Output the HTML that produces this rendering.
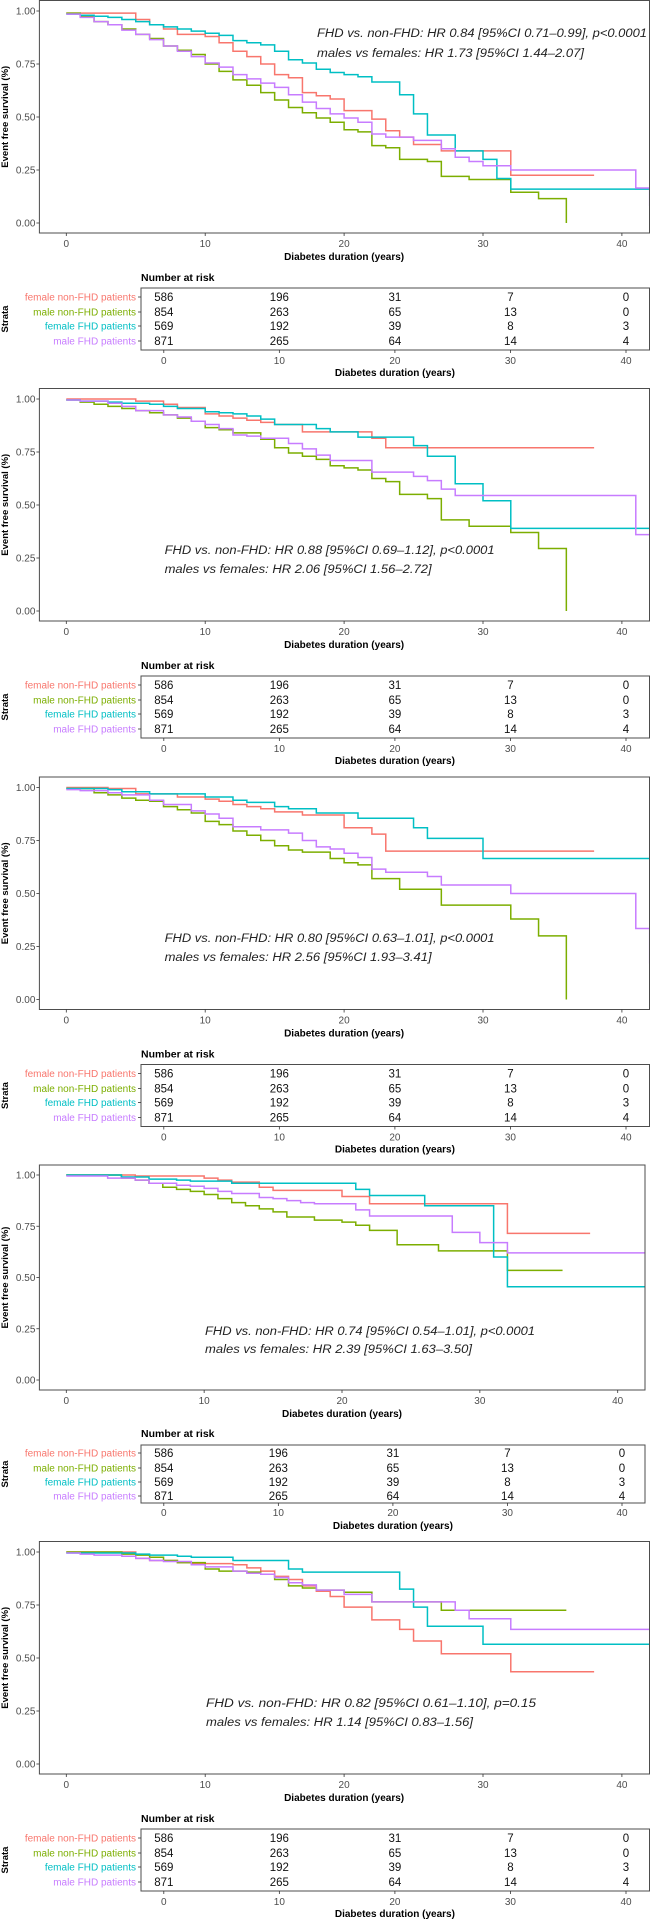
<!DOCTYPE html>
<html><head><meta charset="utf-8"><style>
html,body{margin:0;padding:0;background:#fff}
svg{display:block;font-family:"Liberation Sans",sans-serif}
</style></head><body>
<svg id="fig" width="650" height="1920" viewBox="0 0 650 1920" xmlns="http://www.w3.org/2000/svg"></svg>
<script>
// ---- data: [time(years), survival] steps ----
const p1_femaleNon=[[0,0.99],[5,0.96],[6,0.935],[7,0.915],[8,0.89],[10,0.88],[11,0.85],[12,0.81],[13,0.785],[14,0.75],[15,0.70],[16,0.685],[17,0.615],[18,0.60],[19,0.585],[20,0.53],[22,0.49],[23,0.435],[24,0.405],[25,0.37],[27,0.34],[32,0.225],[38,0.225]];
const p1_maleNon=[[0,0.99],[1,0.975],[2,0.95],[3,0.935],[4,0.915],[5,0.89],[6,0.87],[7,0.835],[8,0.815],[9,0.795],[10,0.75],[11,0.715],[12,0.675],[13,0.65],[14,0.615],[15,0.58],[16,0.545],[17,0.52],[18,0.495],[19,0.475],[20,0.44],[21,0.43],[22,0.365],[23,0.355],[24,0.30],[26,0.29],[27,0.22],[29,0.205],[32,0.145],[34,0.115],[36,0]];
const p1_femaleFhd=[[0,0.985],[1,0.98],[2,0.975],[3,0.97],[4,0.96],[5,0.95],[6,0.935],[7,0.925],[8,0.915],[9,0.905],[10,0.895],[11,0.885],[12,0.86],[13,0.85],[14,0.84],[15,0.81],[16,0.77],[17,0.755],[18,0.725],[19,0.71],[20,0.70],[21,0.69],[22,0.665],[24,0.605],[25,0.515],[26,0.415],[28,0.34],[30,0.30],[31,0.21],[32,0.16],[42,0.16]];
const p1_maleFhd=[[0,0.985],[1,0.97],[2,0.95],[3,0.935],[4,0.91],[5,0.89],[6,0.865],[7,0.835],[8,0.81],[9,0.785],[10,0.755],[11,0.735],[12,0.70],[13,0.68],[14,0.66],[15,0.64],[16,0.605],[17,0.57],[18,0.54],[19,0.515],[20,0.495],[21,0.475],[22,0.42],[23,0.405],[25,0.39],[27,0.35],[28,0.31],[29,0.29],[30,0.27],[32,0.25],[41,0.165],[42,0.08]];

const p2_femaleNon=[[0,1.0],[5,0.99],[7,0.975],[8,0.96],[10,0.93],[11,0.92],[12,0.91],[13,0.90],[14,0.89],[15,0.88],[17,0.845],[22,0.815],[23,0.77],[38,0.77]];
const p2_maleNon=[[0,0.995],[1,0.985],[2,0.975],[3,0.965],[4,0.955],[5,0.945],[6,0.935],[7,0.925],[8,0.91],[9,0.895],[10,0.865],[11,0.855],[12,0.84],[14,0.81],[15,0.77],[16,0.745],[17,0.73],[18,0.715],[19,0.685],[20,0.675],[21,0.665],[22,0.625],[23,0.61],[24,0.55],[26,0.53],[27,0.43],[29,0.40],[32,0.37],[34,0.295],[36,0]];
const p2_femaleFhd=[[0,0.995],[1,0.99],[3,0.985],[4,0.98],[6,0.975],[7,0.965],[8,0.955],[10,0.94],[11,0.935],[12,0.93],[13,0.92],[14,0.905],[15,0.88],[18,0.86],[19,0.845],[21,0.82],[25,0.78],[26,0.73],[28,0.60],[30,0.52],[32,0.39],[42,0.39]];
const p2_maleFhd=[[0,0.995],[1,0.99],[3,0.98],[4,0.965],[5,0.945],[7,0.925],[8,0.915],[9,0.895],[10,0.88],[11,0.86],[12,0.83],[13,0.825],[14,0.815],[16,0.79],[17,0.765],[18,0.735],[19,0.71],[22,0.655],[25,0.635],[26,0.615],[27,0.575],[28,0.545],[41,0.36],[42,0.36]];

const p3_femaleNon=[[0,1.0],[3,0.995],[5,0.97],[8,0.955],[10,0.945],[11,0.935],[12,0.92],[13,0.91],[14,0.90],[15,0.885],[17,0.87],[20,0.81],[22,0.78],[23,0.70],[38,0.70]];
const p3_maleNon=[[0,0.995],[2,0.975],[3,0.965],[4,0.95],[5,0.94],[6,0.935],[7,0.91],[8,0.895],[9,0.88],[10,0.84],[11,0.825],[12,0.795],[13,0.775],[14,0.75],[15,0.725],[16,0.705],[17,0.695],[19,0.665],[20,0.645],[21,0.635],[22,0.57],[24,0.52],[27,0.445],[32,0.38],[34,0.30],[36,0]];
const p3_femaleFhd=[[0,0.995],[3,0.99],[4,0.98],[6,0.97],[10,0.955],[12,0.94],[13,0.93],[15,0.91],[16,0.90],[18,0.88],[21,0.855],[25,0.81],[26,0.76],[30,0.665],[42,0.665]];
const p3_maleFhd=[[0,0.99],[1,0.985],[3,0.975],[4,0.965],[6,0.94],[7,0.92],[9,0.89],[10,0.875],[11,0.855],[12,0.815],[14,0.80],[16,0.785],[17,0.75],[18,0.72],[19,0.71],[20,0.69],[21,0.67],[22,0.615],[23,0.60],[26,0.58],[27,0.54],[32,0.50],[41,0.335],[42,0.17]];

const p4_femaleNon=[[0,1.0],[5,0.995],[10,0.985],[11,0.975],[12,0.965],[14,0.94],[15,0.925],[20,0.895],[22,0.86],[32,0.715],[38,0.715]];
const p4_maleNon=[[0,1.0],[4,0.985],[5,0.975],[6,0.96],[7,0.94],[8,0.93],[9,0.92],[10,0.905],[11,0.885],[12,0.865],[13,0.85],[14,0.835],[15,0.82],[16,0.795],[18,0.78],[20,0.77],[21,0.755],[22,0.73],[24,0.66],[27,0.63],[32,0.535],[36,0.535]];
const p4_femaleFhd=[[0,1.0],[4,0.99],[6,0.98],[8,0.975],[9,0.97],[12,0.96],[21,0.93],[22,0.90],[26,0.85],[31,0.60],[32,0.455],[42,0.455]];
const p4_maleFhd=[[0,0.995],[3,0.985],[5,0.975],[6,0.96],[8,0.95],[9,0.945],[10,0.935],[11,0.92],[12,0.91],[14,0.89],[15,0.885],[16,0.875],[17,0.865],[18,0.86],[21,0.83],[22,0.80],[28,0.72],[30,0.67],[32,0.62],[42,0.62]];

const p5_femaleNon=[[0,1.0],[5,0.97],[6,0.96],[8,0.95],[9,0.945],[12,0.94],[13,0.925],[14,0.91],[15,0.885],[16,0.87],[17,0.84],[18,0.815],[19,0.79],[20,0.74],[22,0.68],[24,0.635],[25,0.58],[27,0.52],[32,0.435],[38,0.435]];
const p5_maleNon=[[0,1.0],[4,0.99],[5,0.985],[6,0.975],[7,0.96],[8,0.95],[10,0.92],[11,0.91],[13,0.905],[14,0.895],[15,0.87],[16,0.84],[17,0.83],[18,0.82],[20,0.81],[22,0.765],[27,0.725],[36,0.725]];
const p5_femaleFhd=[[0,0.995],[5,0.99],[6,0.985],[8,0.98],[9,0.975],[12,0.96],[16,0.92],[17,0.905],[24,0.825],[25,0.74],[26,0.65],[30,0.565],[42,0.565]];
const p5_maleFhd=[[0,0.995],[1,0.99],[2,0.985],[4,0.98],[5,0.97],[6,0.96],[7,0.955],[9,0.94],[10,0.93],[12,0.91],[13,0.90],[14,0.895],[15,0.88],[16,0.855],[17,0.845],[18,0.82],[20,0.80],[22,0.765],[28,0.725],[29,0.685],[32,0.635],[42,0.635]];

const strataNames=["female non-FHD patients","male non-FHD patients","female FHD patients","male FHD patients"];
const xTicks=[0,10,20,30,40];
const yTicks=[0,0.25,0.5,0.75,1];
const yTickLabels=["0.00","0.25","0.50","0.75","1.00"];
const riskFemaleNon=[586,196,31,7,0];
const riskMaleNon=[854,263,65,13,0];
const riskFemaleFhd=[569,192,39,8,3];
const riskMaleFhd=[871,265,64,14,4];
const hrLine1=["FHD vs. non-FHD: HR 0.84 [95%CI 0.71–0.99], p<0.0001","FHD vs. non-FHD: HR 0.88 [95%CI 0.69–1.12], p<0.0001","FHD vs. non-FHD: HR 0.80 [95%CI 0.63–1.01], p<0.0001","FHD vs. non-FHD: HR 0.74 [95%CI 0.54–1.01], p<0.0001","FHD vs. non-FHD: HR 0.82 [95%CI 0.61–1.10], p=0.15"];
const hrLine2=["males vs females: HR 1.73 [95%CI 1.44–2.07]","males vs females: HR 2.06 [95%CI 1.56–2.72]","males vs females: HR 2.56 [95%CI 1.93–3.41]","males vs females: HR 2.39 [95%CI 1.63–3.50]","males vs females: HR 1.14 [95%CI 0.83–1.56]"];

const colors=["#F8766D","#7CAE00","#00BFC4","#C77CFF"];
const panelSeries=[
 [p1_femaleNon,p1_maleNon,p1_femaleFhd,p1_maleFhd],
 [p2_femaleNon,p2_maleNon,p2_femaleFhd,p2_maleFhd],
 [p3_femaleNon,p3_maleNon,p3_femaleFhd,p3_maleFhd],
 [p4_femaleNon,p4_maleNon,p4_femaleFhd,p4_maleFhd],
 [p5_femaleNon,p5_maleNon,p5_femaleFhd,p5_maleFhd]];
const riskRows=[riskFemaleNon,riskMaleNon,riskFemaleFhd,riskMaleFhd];

function geo(o,extra){
  return Object.assign({y1:11+o,y0:223+o,boxT:0.5+o,boxB:233+o,boxL:39.4,boxR:649.5,x0:66.3,x40:621.9,
    tick:247+o,title:260+o,nar:281+o,tT:288+o,tB:350+o,rows:[301+o,316+o,330+o,345+o],tTick:364+o,tTitle:376+o,
    tL:141,tR:649.5,tx0:163.8,tx40:626,ann:[317,37+o,57+o]},extra||{});
}
const G=[geo(0),geo(388,{ann:[164.6,554,573]}),geo(776.5,{ann:[164.6,942,961]}),
 {y1:1175,y0:1380,boxT:1165,boxB:1390,boxL:39.4,boxR:645,x0:66.3,x40:617.7,tick:1404,title:1417,nar:1437,tT:1445,tB:1503,rows:[1457,1472,1486,1500],tTick:1516,tTitle:1529,tL:141,tR:645,tx0:163.8,tx40:622,ann:[205,1335,1353]},
 geo(1541,{ann:[206,1707,1726]})];

const NS="http://www.w3.org/2000/svg";
const svg=document.getElementById('fig');
function mk(tag,attrs,parent,txt){const e=document.createElementNS(NS,tag);for(const k in attrs)e.setAttribute(k,attrs[k]);if(txt!==undefined)e.textContent=txt;(parent||svg).appendChild(e);return e;}

G.forEach((g,pi)=>{
  const grp=mk('g',{});
  
  
  const X=t=>g.x0+(g.x40-g.x0)*t/40;
  const Y=s=>g.y0-(g.y0-g.y1)*s;
  const TX=t=>g.tx0+(g.tx40-g.tx0)*t/40;
  const cid='clip'+pi;
  const cp=mk('clipPath',{id:cid},grp);
  mk('rect',{x:g.boxL,y:g.boxT,width:g.boxR-g.boxL,height:g.boxB-g.boxT},cp);
  // curves
  panelSeries[pi].forEach((ser,si)=>{
    let d='M'+X(ser[0][0])+','+Y(ser[0][1]);
    for(let i=1;i<ser.length;i++){d+=' H'+X(ser[i][0])+' V'+Y(ser[i][1]);}
    const p=mk('path',{d:d,fill:'none',stroke:colors[si],'stroke-width':1.5,'clip-path':'url(#'+cid+')'},grp);
    
    
  });
  const box=mk('rect',{x:g.boxL,y:g.boxT,width:g.boxR-g.boxL,height:g.boxB-g.boxT,fill:'none',stroke:'#4d4d4d','stroke-width':1},grp);
  
  
  // y ticks
  yTicks.forEach((v,i)=>{
    mk('line',{x1:g.boxL-3,x2:g.boxL,y1:Y(v),y2:Y(v),stroke:'#333','stroke-width':0.8},grp);
    const t=mk('text',{x:g.boxL-4,y:Y(v)+3.5,'font-size':10,fill:'#4d4d4d','text-anchor':'end'},grp,yTickLabels[i]);
    
    
  });
  xTicks.forEach(v=>{
    mk('line',{x1:X(v),x2:X(v),y1:g.boxB,y2:g.boxB+3,stroke:'#333','stroke-width':0.8},grp);
    const t=mk('text',{x:X(v),y:g.tick,'font-size':10,fill:'#4d4d4d','text-anchor':'middle'},grp,String(v));
    
    
  });
  const yc=(g.boxT+g.boxB)/2;
  const yt=mk('text',{x:0,y:0,'font-size':9.5,'font-weight':'bold','text-anchor':'middle',transform:'translate(8,'+yc+') rotate(-90)'},grp,'Event free survival (%)');
  
  
  const xt=mk('text',{x:(g.x0+g.x40)/2+0,y:g.title,'font-size':10,'font-weight':'bold','text-anchor':'middle'},grp,'Diabetes duration (years)');
  
  
  const a1=mk('text',{x:g.ann[0],y:g.ann[1],'font-size':11.5,'font-style':'italic',fill:'#222',textLength:330,lengthAdjust:'spacingAndGlyphs'},grp,hrLine1[pi]);
  
  
  const a2=mk('text',{x:g.ann[0],y:g.ann[2],'font-size':11.5,'font-style':'italic',fill:'#222',textLength:267,lengthAdjust:'spacingAndGlyphs'},grp,hrLine2[pi]);
  
  
  // risk table
  const nt=mk('text',{x:g.tL,y:g.nar,'font-size':10.5,'font-weight':'bold'},grp,'Number at risk');
  
  
  const tb=mk('rect',{x:g.tL,y:g.tT,width:g.tR-g.tL,height:g.tB-g.tT,fill:'none',stroke:'#4d4d4d','stroke-width':1},grp);
  
  
  riskRows.forEach((row,ri)=>{
    const yy=g.rows[ri];
    const sl=mk('text',{x:g.tL-5,y:yy-0.5,'font-size':10,fill:colors[ri],'text-anchor':'end'},grp,strataNames[ri]);
    
    
    mk('line',{x1:g.tL-3,x2:g.tL,y1:yy-4,y2:yy-4,stroke:'#333','stroke-width':0.8},grp);
    row.forEach((n,ci)=>{
      const c=mk('text',{x:TX(xTicks[ci]),y:yy,'font-size':11.5,'text-anchor':'middle',fill:'#111'},grp,String(n));
      
      
    });
  });
  xTicks.forEach(v=>{
    mk('line',{x1:TX(v),x2:TX(v),y1:g.tB,y2:g.tB+3,stroke:'#333','stroke-width':0.8},grp);
    const t=mk('text',{x:TX(v),y:g.tTick,'font-size':10,fill:'#4d4d4d','text-anchor':'middle'},grp,String(v));
    
    
  });
  const st=mk('text',{x:0,y:0,'font-size':9.5,'font-weight':'bold','text-anchor':'middle',transform:'translate(8,'+((g.tT+g.tB)/2)+') rotate(-90)'},grp,'Strata');
  
  
  const tt=mk('text',{x:(g.tx0+g.tx40)/2,y:g.tTitle,'font-size':10,'font-weight':'bold','text-anchor':'middle'},grp,'Diabetes duration (years)');
  
  
});
</script>
</body></html>
